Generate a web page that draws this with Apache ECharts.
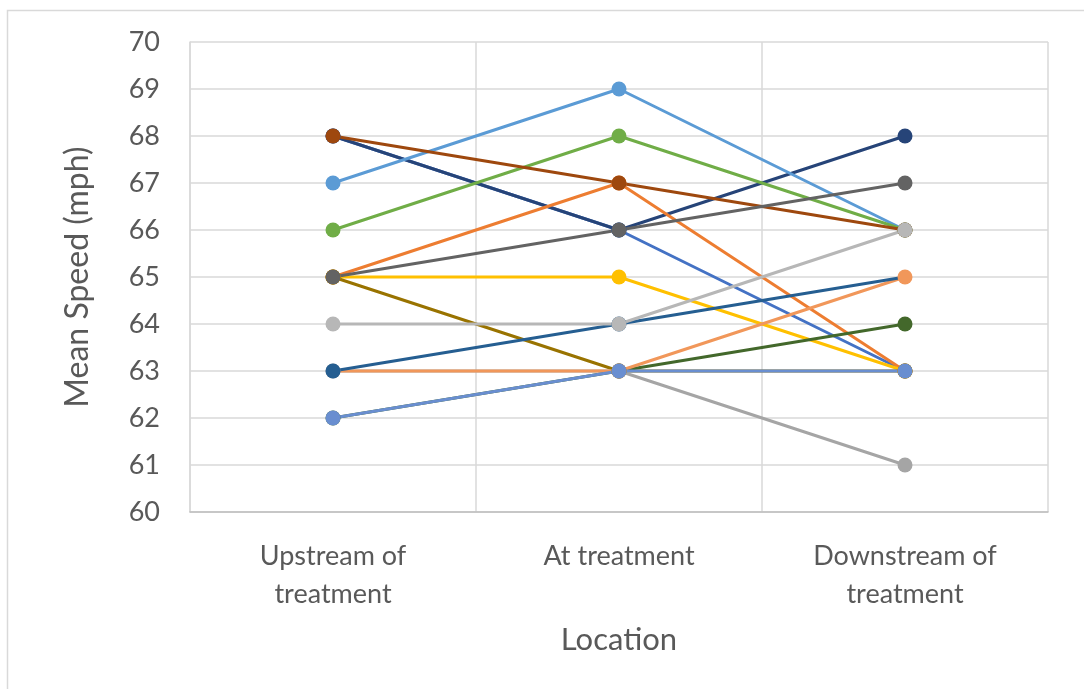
<!DOCTYPE html>
<html>
<head>
<meta charset="utf-8">
<script src="https://cdn.jsdelivr.net/npm/echarts@6/dist/echarts.min.js"></script>
<style>
  html, body { margin: 0; padding: 0; background: #ffffff; }
  #chart { width: 1084px; height: 689px; }
</style>
</head>
<body>
<div id="chart"></div>
<script>
// Location categories along the x axis
const locations = ['Upstream of\ntreatment', 'At treatment', 'Downstream of\ntreatment'];

// Mean speed (mph) at each location, one array per site
const siteA = [68, 66, 63];
const siteB = [68, 66, 68];
const siteC = [67, 69, 66];
const siteD = [66, 68, 66];
const siteE = [65, 67, 63];
const siteF = [68, 67, 66];
const siteG = [65, 65, 63];
const siteH = [65, 63, 63];
const siteI = [65, 66, 67];
const siteJ = [63, 63, 61];
const siteK = [62, 63, 64];
const siteL = [63, 63, 65];
const siteM = [63, 64, 65];
const siteN = [64, 64, 66];
const siteO = [62, 63, 63];

// Y axis range and step
const yMin = 60;
const yMax = 70;
const yStep = 1;

// Drawing order (bottom to top) with line colours;
// `under` lists point indexes whose marker sits beneath an overlapping one
const sites = [
  { data: siteA, color: '#4472C4' },
  { data: siteB, color: '#264478' },
  { data: siteC, color: '#5B9BD5' },
  { data: siteD, color: '#70AD47' },
  { data: siteE, color: '#ED7D31' },
  { data: siteF, color: '#9E480E' },
  { data: siteG, color: '#FFC000' },
  { data: siteH, color: '#997300' },
  { data: siteI, color: '#636363' },
  { data: siteJ, color: '#A5A5A5' },
  { data: siteK, color: '#43682B' },
  { data: siteL, color: '#F1975A', under: [0] },
  { data: siteM, color: '#255E91', under: [2] },
  { data: siteN, color: '#B7B7B7' },
  { data: siteO, color: '#698ED0' }
];

const textColor = '#595959';
const fontFamily = 'Lato, "Open Sans", sans-serif';
const markerSize = 15;

const chart = echarts.init(document.getElementById('chart'), null, { renderer: 'canvas' });

chart.setOption({
  animation: false,
  backgroundColor: '#ffffff',
  graphic: [{
    type: 'rect',
    shape: { x: 7.5, y: 10.5, width: 1090, height: 700 },
    style: { fill: 'none', stroke: '#d9d9d9', lineWidth: 1.5 },
    silent: true,
    z: -10
  }],
  grid: { left: 190, right: 36, top: 42, bottom: 177, containLabel: false },
  xAxis: {
    type: 'category',
    data: locations,
    boundaryGap: true,
    name: 'Location',
    nameLocation: 'middle',
    nameGap: 112,
    nameTextStyle: { color: textColor, fontSize: 31, fontFamily: fontFamily },
    axisLine: { show: true, lineStyle: { color: '#bfbfbf', width: 1.5 } },
    axisTick: { show: false },
    splitLine: { show: true, lineStyle: { color: '#d9d9d9', width: 1.5 } },
    axisLabel: {
      color: textColor, fontSize: 27, fontFamily: fontFamily,
      margin: 25, lineHeight: 38, interval: 0
    }
  },
  yAxis: {
    type: 'value',
    min: yMin,
    max: yMax,
    interval: yStep,
    name: 'Mean Speed (mph)',
    nameLocation: 'middle',
    nameGap: 96,
    nameTextStyle: { color: textColor, fontSize: 32, fontFamily: fontFamily },
    axisLine: { show: true, lineStyle: { color: '#d9d9d9', width: 1.5 } },
    axisTick: { show: false },
    splitLine: { show: true, lineStyle: { color: '#d9d9d9', width: 1.5 } },
    axisLabel: { color: textColor, fontSize: 27, fontFamily: fontFamily, margin: 30 }
  },
  series: sites.map(s => ({
    type: 'line',
    data: s.data,
    symbol: 'circle',
    symbolSize: (value, params) =>
      (s.under && s.under.indexOf(params.dataIndex) >= 0) ? 0 : markerSize,
    showSymbol: true,
    lineStyle: { color: s.color, width: 3 },
    itemStyle: { color: s.color },
    emphasis: { disabled: true }
  }))
});
</script>
</body>
</html>
